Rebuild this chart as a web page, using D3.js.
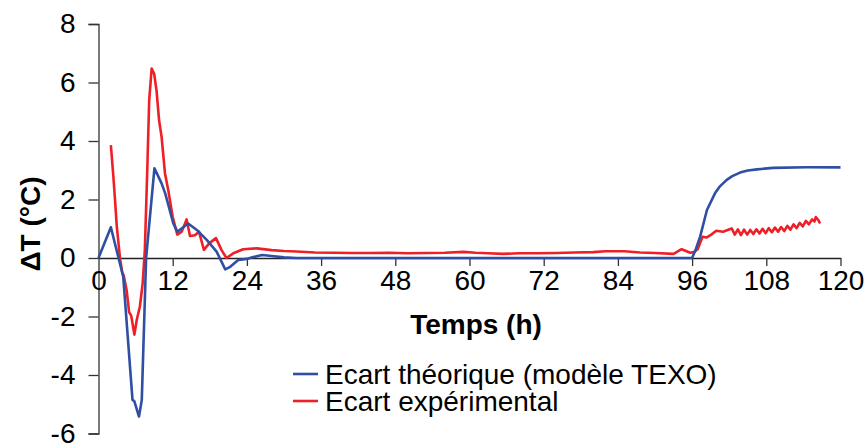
<!DOCTYPE html>
<html>
<head>
<meta charset="utf-8">
<script src="https://cdn.jsdelivr.net/npm/d3@7"></script>
<style>
  html, body { margin: 0; padding: 0; background: #fff; }
  svg { display: block; }
  text { font-family: Arial, "Liberation Sans", sans-serif; fill: #000; }
</style>
</head>
<body>
<svg id="chart" width="867" height="443"></svg>
<script>
// ---- data ----
const xTicks = [0, 12, 24, 36, 48, 60, 72, 84, 96, 108, 120];
const yTicks = [-6, -4, -2, 0, 2, 4, 6, 8];

const seriesNames = ["Ecart théorique (modèle TEXO)", "Ecart expérimental"];
const seriesColors = ["#2f4fa2", "#ee2027"];

// theoretical (TEXO model)
const theoT = [0, 2, 4, 5.5, 5.8, 6.55, 7.0, 7.7, 9.05, 10.2, 10.8, 12.1, 12.75, 14.5, 15.9, 17.5, 19.1, 20.5, 21.3, 22.6, 24, 25, 26.5, 28, 30, 32, 96, 96.6, 97.3, 98.4, 99.7, 100.5, 101.6, 102.5, 103.75, 105, 106.5, 109.1, 114.5, 120];
const theoV = [0, 1.05, -0.64, -4.85, -4.9, -5.42, -4.85, 0, 3.07, 2.55, 2.2, 1.18, 0.9, 1.18, 0.96, 0.62, 0.22, -0.39, -0.3, -0.07, -0.03, 0.03, 0.1, 0.07, 0.02, 0, 0, 0.3, 0.73, 1.64, 2.21, 2.45, 2.67, 2.8, 2.92, 2.99, 3.03, 3.08, 3.1, 3.1];

// experimental
const expT = [2.0, 2.4, 2.7, 2.95, 3.5, 3.85, 4.1, 4.55, 4.95, 5.3, 5.8, 6.2, 6.7, 7.15, 7.5, 7.9, 8.2, 8.6, 9.0, 9.4, 9.8, 10.2, 10.75, 11.3, 12.0, 12.75, 13.45, 14.25, 14.8, 15.6, 16.25, 17.05, 17.9, 19.0, 19.9, 20.7, 21.8, 23.4, 25.6, 28, 30, 32, 35, 38, 41, 44, 47, 50, 53, 56, 59, 61, 63, 65.4, 68, 71, 74, 77, 80, 82, 85, 87.6, 90, 93, 94.3, 95.7, 96.3, 96.9, 97.7, 98.3, 99.1, 99.9, 101, 102.4, 102.9, 103.4, 103.9, 104.4, 104.9, 105.4, 105.9, 106.4, 106.9, 107.4, 107.9, 108.4, 108.9, 109.4, 109.9, 110.4, 110.9, 111.4, 111.9, 112.4, 112.9, 113.4, 113.9, 114.4, 114.9, 115.4, 115.8, 116.0, 116.4, 116.7];
const expV = [3.86, 2.8, 1.9, 1.1, -0.05, -0.5, -0.62, -1.1, -1.85, -1.98, -2.62, -2.1, -1.65, -0.85, 0.3, 3.1, 5.4, 6.48, 6.3, 5.7, 4.7, 4.15, 2.9, 2.3, 1.4, 0.8, 0.9, 1.32, 0.75, 0.78, 0.9, 0.28, 0.5, 0.68, 0.27, 0.0, 0.16, 0.3, 0.33, 0.27, 0.24, 0.22, 0.19, 0.18, 0.17, 0.17, 0.18, 0.16, 0.17, 0.18, 0.21, 0.18, 0.16, 0.14, 0.16, 0.16, 0.17, 0.19, 0.2, 0.23, 0.23, 0.19, 0.17, 0.14, 0.3, 0.18, 0.2, 0.3, 0.73, 0.7, 0.8, 0.93, 0.9, 1.01, 0.8, 0.98, 0.78, 0.97, 0.8, 0.96, 0.82, 0.98, 0.84, 1.0, 0.85, 1.02, 0.88, 1.04, 0.9, 1.06, 0.92, 1.1, 0.97, 1.15, 1.02, 1.2, 1.08, 1.27, 1.15, 1.32, 1.25, 1.4, 1.3, 1.18];

// ---- layout ----
const svg = d3.select("#chart");
const x = d3.scaleLinear().domain([0, 120]).range([98.5, 840.5]);
const y = d3.scaleLinear().domain([-6, 8]).range([433.5, 24]);

const FS = 28;
const FONT = "Arial, 'Liberation Sans', sans-serif";
const fmt = d => String(d);

// y axis
const yAxis = svg.append("g")
  .attr("transform", `translate(${x(0)},0)`)
  .call(d3.axisLeft(y).tickValues(yTicks).tickSize(10).tickPadding(13).tickFormat(fmt));
yAxis.select(".domain").attr("stroke", "#333").attr("stroke-width", 1.3);
yAxis.selectAll(".tick line").attr("stroke", "#333").attr("stroke-width", 1.3);
yAxis.selectAll(".tick text").attr("font-size", FS).attr("font-family", FONT).attr("fill", "#000");

// x axis at y = 0
const xAxis = svg.append("g")
  .attr("transform", `translate(0,${y(0)})`)
  .call(d3.axisBottom(x).tickValues(xTicks).tickSize(8).tickSizeOuter(0).tickPadding(4).tickFormat(fmt));
xAxis.select(".domain").attr("stroke", "#222").attr("stroke-width", 1.5);
xAxis.selectAll(".tick line").attr("stroke", "#333").attr("stroke-width", 1.3);
xAxis.selectAll(".tick text").attr("font-size", FS).attr("font-family", FONT).attr("fill", "#000");
xAxis.selectAll(".tick").filter(d => d === 0).select("line").remove();

// lines
const line = d3.line().x(d => x(d[0])).y(d => y(d[1]));
const theoData = theoT.map((t, i) => [t, theoV[i]]);
const expData = expT.map((t, i) => [t, expV[i]]);

svg.append("path").datum(expData)
  .attr("fill", "none").attr("stroke", seriesColors[1]).attr("stroke-width", 2.6)
  .attr("stroke-linejoin", "round").attr("d", line);
svg.append("path").datum(theoData)
  .attr("fill", "none").attr("stroke", seriesColors[0]).attr("stroke-width", 2.6)
  .attr("stroke-linejoin", "round").attr("d", line);

// axis titles
svg.append("text")
  .attr("x", 476).attr("y", 334)
  .attr("text-anchor", "middle").attr("font-size", FS).attr("font-weight", "bold")
  .text("Temps (h)");
svg.append("text")
  .attr("transform", "translate(40,224) rotate(-90)")
  .attr("text-anchor", "middle").attr("font-size", FS).attr("font-weight", "bold")
  .text("ΔT (°C)");

// legend
const legendY = [374, 401];
seriesNames.forEach((name, i) => {
  svg.append("line")
    .attr("x1", 293).attr("x2", 318).attr("y1", legendY[i]).attr("y2", legendY[i])
    .attr("stroke", seriesColors[i]).attr("stroke-width", 2.6);
  svg.append("text")
    .attr("x", 325).attr("y", legendY[i] + 10)
    .attr("font-size", FS)
    .text(name);
});
</script>
</body>
</html>
